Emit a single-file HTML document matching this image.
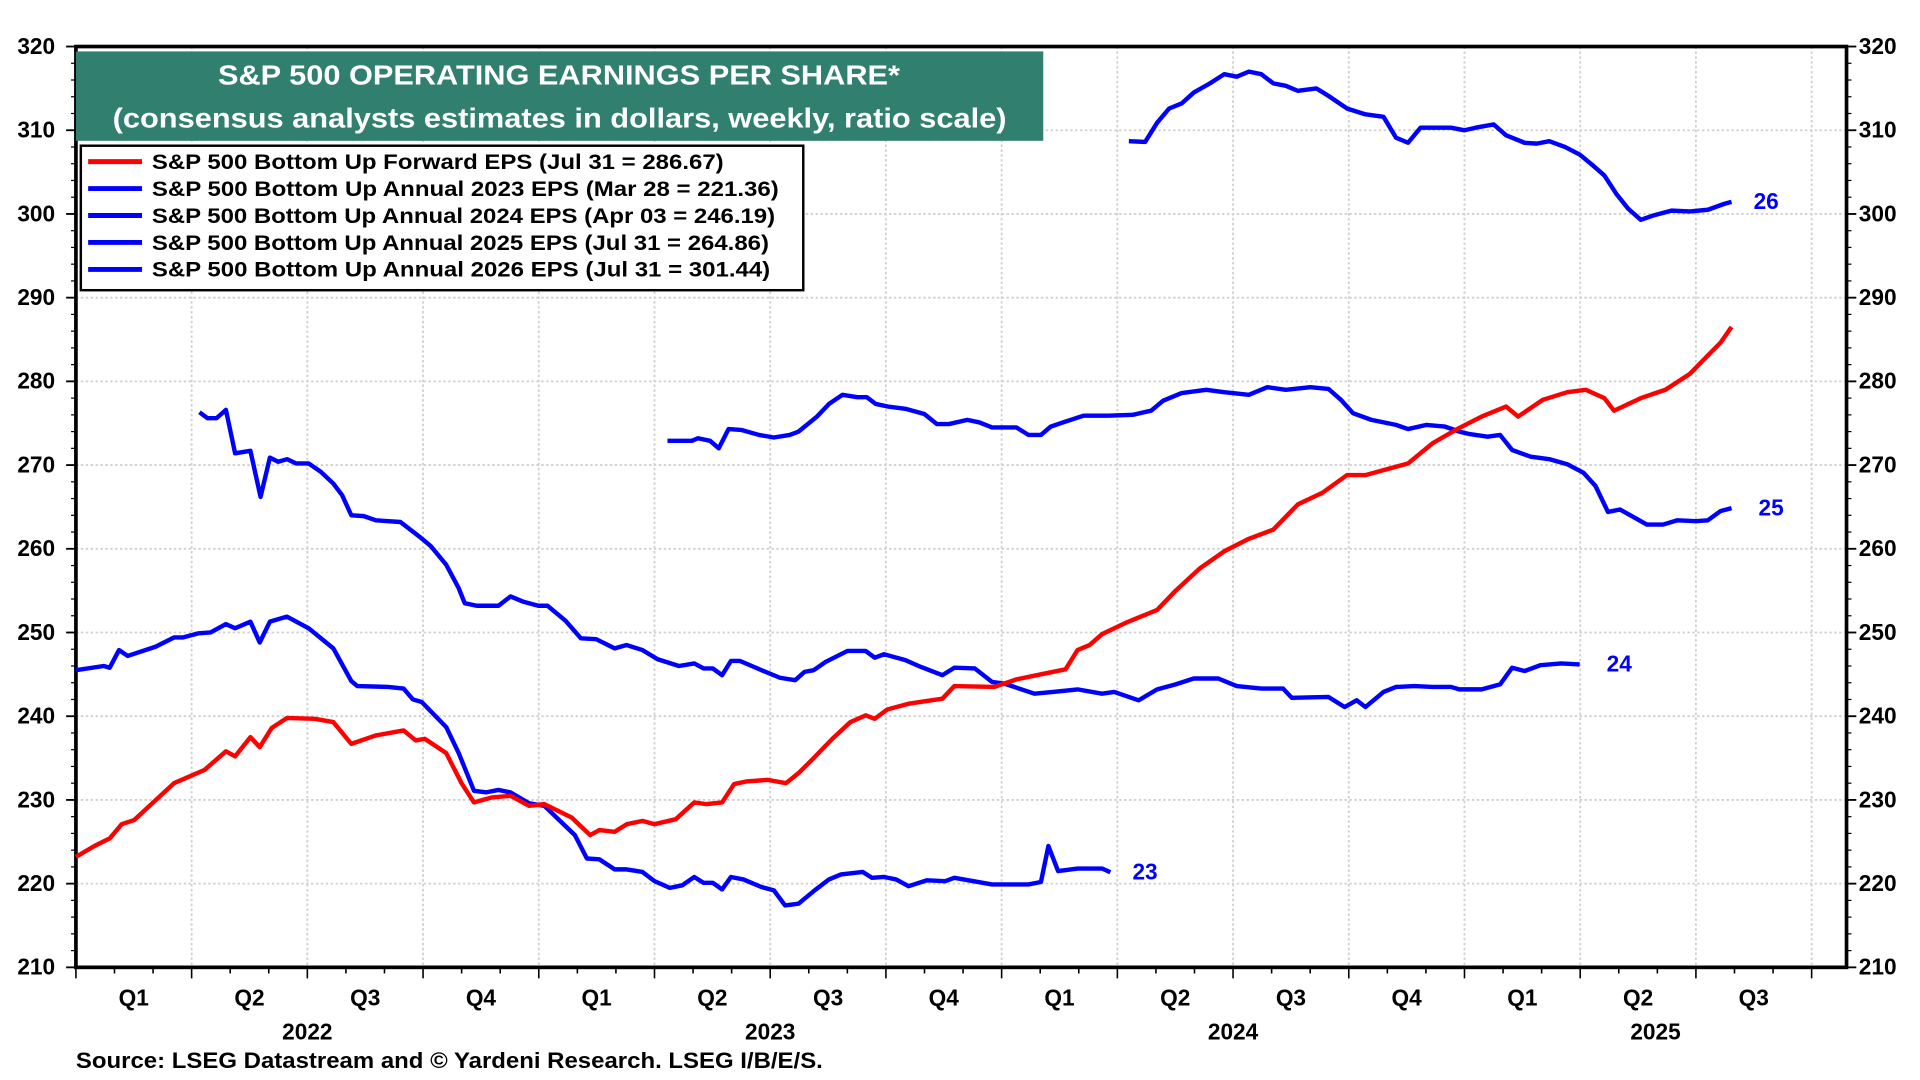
<!DOCTYPE html>
<html><head><meta charset="utf-8">
<style>
html,body{margin:0;padding:0;background:#fff;}
svg{display:block;font-family:"Liberation Sans",Arial,sans-serif;font-weight:bold;}
</style></head>
<body>
<svg id="chart" width="1920" height="1080" viewBox="0 0 1568 882" xmlns="http://www.w3.org/2000/svg">
<g id="grid"></g>
<g id="axes"></g>
<g id="series"></g>
<rect x="62" y="42" width="790" height="73" fill="#31806f"/>
<text x="178" y="69" fill="#fff" font-size="23" textLength="557" lengthAdjust="spacingAndGlyphs">S&amp;P 500 OPERATING EARNINGS PER SHARE*</text>
<text x="92" y="104" fill="#fff" font-size="23" textLength="730" lengthAdjust="spacingAndGlyphs">(consensus analysts estimates in dollars, weekly, ratio scale)</text>
<g>
<rect x="66" y="119" width="590" height="118" fill="#fff" stroke="#000" stroke-width="2"/>
<g><line x1="72" y1="132" x2="116" y2="132" stroke="#f00" stroke-width="4"/><text x="124" y="138" font-size="17" textLength="467" lengthAdjust="spacingAndGlyphs">S&amp;P 500 Bottom Up Forward EPS (Jul 31 = 286.67)</text></g>
<g><line x1="72" y1="154" x2="116" y2="154" stroke="#00f" stroke-width="4"/><text x="124" y="160" font-size="17" textLength="512" lengthAdjust="spacingAndGlyphs">S&amp;P 500 Bottom Up Annual 2023 EPS (Mar 28 = 221.36)</text></g>
<g><line x1="72" y1="176" x2="116" y2="176" stroke="#00f" stroke-width="4"/><text x="124" y="182" font-size="17" textLength="509" lengthAdjust="spacingAndGlyphs">S&amp;P 500 Bottom Up Annual 2024 EPS (Apr 03 = 246.19)</text></g>
<g><line x1="72" y1="198" x2="116" y2="198" stroke="#00f" stroke-width="4"/><text x="124" y="204" font-size="17" textLength="504" lengthAdjust="spacingAndGlyphs">S&amp;P 500 Bottom Up Annual 2025 EPS (Jul 31 = 264.86)</text></g>
<g><line x1="72" y1="220" x2="116" y2="220" stroke="#00f" stroke-width="4"/><text x="124" y="226" font-size="17" textLength="505" lengthAdjust="spacingAndGlyphs">S&amp;P 500 Bottom Up Annual 2026 EPS (Jul 31 = 301.44)</text></g>
</g>
<text x="62" y="872" font-size="18" textLength="610" lengthAdjust="spacingAndGlyphs">Source: LSEG Datastream and © Yardeni Research. LSEG I/B/E/S.</text>
</svg>
<script>
// years since 2022-01-01 and EPS values
const fwdT=[0,.040,.073,.099,.126,.159,.212,.278,.324,.344,.377,.397,.423,.456,.516,.556,.595,.648,.708,.734,.754,.800,.833,.860,.899,.939,.979,1.012,1.071,1.111,1.131,1.164,1.190,1.224,1.250,1.296,1.336,1.362,1.396,1.422,1.448,1.495,1.534,1.561,1.594,1.634,1.673,1.706,1.726,1.753,1.799,1.872,1.898,1.984,2.032,2.085,2.138,2.164,2.190,2.217,2.270,2.336,2.376,2.429,2.481,2.534,2.587,2.640,2.693,2.746,2.786,2.825,2.878,2.931,2.984,3.037,3.090,3.116,3.169,3.222,3.262,3.302,3.323,3.381,3.434,3.487,3.526,3.553,3.577];
const fwdV=[223.2,224.5,225.4,227.1,227.6,229.3,232.0,233.6,235.8,235.2,237.5,236.3,238.6,239.8,239.7,239.3,236.7,237.7,238.3,237.1,237.3,235.6,232.0,229.7,230.3,230.5,229.3,229.5,227.9,225.8,226.4,226.2,227.1,227.5,227.1,227.7,229.7,229.5,229.7,231.9,232.2,232.4,232.0,233.2,235.0,237.3,239.3,240.1,239.7,240.8,241.5,242.1,243.6,243.5,244.4,245.0,245.6,247.9,248.5,249.8,251.2,252.7,255.0,257.7,259.7,261.2,262.3,265.3,266.7,268.8,268.8,269.4,270.2,272.6,274.3,275.8,277.0,275.8,277.8,278.7,279.0,278.0,276.5,278.0,279.0,280.9,283.1,284.6,286.5];
const e23T=[0,.060,.073,.093,.112,.172,.212,.231,.265,.291,.324,.344,.377,.397,.419,.456,.503,.556,.595,.608,.675,.708,.728,.747,.800,.827,.860,.886,.913,.939,.979,1.012,1.078,1.104,1.131,1.164,1.190,1.224,1.250,1.283,1.310,1.336,1.356,1.376,1.396,1.415,1.442,1.481,1.508,1.532,1.561,1.594,1.627,1.653,1.700,1.720,1.746,1.772,1.799,1.839,1.878,1.898,1.979,2.058,2.085,2.101,2.122,2.164,2.217,2.235];
const e23V=[245.5,246.0,245.8,247.9,247.2,248.3,249.4,249.4,249.9,250.0,251.0,250.5,251.3,248.8,251.3,251.9,250.5,248.1,244.2,243.6,243.5,243.3,242.0,241.7,238.7,235.6,231.1,230.9,231.2,230.9,229.6,229.3,225.8,223.0,222.9,221.7,221.7,221.4,220.3,219.5,219.8,220.8,220.1,220.1,219.3,220.8,220.5,219.6,219.2,217.4,217.6,219.1,220.5,221.1,221.4,220.7,220.8,220.5,219.7,220.4,220.3,220.7,219.9,219.9,220.2,224.5,221.5,221.8,221.8,221.36];
const e24T=[.267,.284,.304,.324,.344,.377,.399,.419,.437,.456,.476,.503,.529,.556,.575,.595,.622,.648,.701,.741,.767,.800,.827,.840,.866,.913,.939,.966,.999,1.019,1.058,1.091,1.124,1.164,1.190,1.224,1.257,1.303,1.336,1.356,1.376,1.396,1.415,1.435,1.481,1.521,1.554,1.574,1.594,1.620,1.667,1.706,1.726,1.746,1.792,1.825,1.872,1.898,1.942,1.979,2.005,2.071,2.111,2.164,2.217,2.243,2.296,2.336,2.376,2.415,2.468,2.508,2.561,2.608,2.627,2.706,2.741,2.767,2.786,2.825,2.852,2.892,2.931,2.971,2.989,3.037,3.077,3.103,3.130,3.164,3.209,3.249];
const e24V=[276.3,275.6,275.6,276.6,271.4,271.7,266.2,270.9,270.4,270.7,270.2,270.2,269.2,267.8,266.4,264.0,263.9,263.4,263.2,261.5,260.3,258.1,255.3,253.5,253.2,253.2,254.3,253.7,253.2,253.2,251.4,249.3,249.2,248.1,248.5,247.9,246.8,246.0,246.3,245.7,245.7,244.9,246.6,246.6,245.5,244.6,244.3,245.3,245.5,246.5,247.8,247.8,247.0,247.4,246.7,245.9,244.9,245.8,245.7,244.1,243.9,242.7,242.9,243.2,242.7,242.9,241.9,243.2,243.8,244.5,244.5,243.6,243.3,243.3,242.2,242.3,241.1,241.9,241.1,242.9,243.5,243.6,243.5,243.5,243.2,243.2,243.8,245.8,245.4,246.1,246.3,246.19];
const e25T=[1.278,1.331,1.344,1.370,1.389,1.410,1.437,1.476,1.508,1.542,1.561,1.601,1.627,1.656,1.688,1.709,1.728,1.754,1.794,1.833,1.860,1.886,1.926,1.952,1.979,2.032,2.058,2.085,2.106,2.138,2.177,2.230,2.283,2.323,2.349,2.389,2.442,2.481,2.534,2.574,2.614,2.667,2.706,2.733,2.759,2.799,2.852,2.878,2.918,2.958,2.989,3.011,3.050,3.077,3.103,3.143,3.183,3.222,3.257,3.283,3.310,3.336,3.368,3.394,3.429,3.460,3.500,3.526,3.553,3.577];
const e25V=[272.9,272.9,273.2,272.9,272.0,274.3,274.2,273.6,273.3,273.6,274.0,275.8,277.3,278.4,278.1,278.1,277.3,277.0,276.7,276.1,274.9,274.9,275.4,275.1,274.5,274.5,273.6,273.6,274.6,275.2,275.9,275.9,276.0,276.5,277.7,278.6,279.0,278.7,278.4,279.3,279.0,279.3,279.1,277.8,276.2,275.4,274.8,274.3,274.8,274.6,274.0,273.7,273.4,273.6,271.8,271.0,270.7,270.1,269.1,267.5,264.4,264.7,263.7,262.9,262.9,263.4,263.3,263.4,264.5,264.86];
const e26T=[2.275,2.310,2.336,2.362,2.389,2.415,2.450,2.481,2.508,2.534,2.561,2.587,2.614,2.640,2.680,2.706,2.746,2.786,2.825,2.852,2.878,2.905,2.944,2.971,3.000,3.024,3.063,3.090,3.130,3.156,3.183,3.217,3.249,3.275,3.302,3.328,3.354,3.381,3.407,3.447,3.487,3.526,3.561,3.577];
const e26V=[308.7,308.6,310.9,312.6,313.2,314.5,315.6,316.7,316.4,317.0,316.7,315.6,315.3,314.7,315.0,314.1,312.6,311.9,311.6,309.1,308.5,310.3,310.3,310.3,310.0,310.3,310.7,309.4,308.5,308.4,308.7,308.0,307.1,305.9,304.6,302.4,300.6,299.3,299.8,300.4,300.3,300.5,301.2,301.44];
const yTicks=[210,220,230,240,250,260,270,280,290,300,310,320];
const qLabels=["Q1","Q2","Q3","Q4"];
const years=["2022","2023","2024","2025"];

const NS="http://www.w3.org/2000/svg";
const L=62,R=1508,T=38,B=790;
const yMin=210,yMax=320;
const X=t=>L+t*378;
const Y=v=>B-(v-yMin)/(yMax-yMin)*(B-T);
function mk(tag,attrs,parent){const e=document.createElementNS(NS,tag);for(const k in attrs)e.setAttribute(k,attrs[k]);parent.appendChild(e);return e;}
const grid=document.getElementById('grid'),axes=document.getElementById('axes'),series=document.getElementById('series');

yTicks.forEach(v=>{
  const y=Y(v);
  if(v>yMin&&v<yMax){const g=mk('line',{x1:L,x2:R,y1:y,y2:y,stroke:'#d0d0d0','stroke-width':1.5,'stroke-dasharray':'2 2'},grid);
  
  }
  const a=mk('text',{x:L-17,y:y+6,'font-size':18.5,'text-anchor':'end'},axes);a.textContent=v;
  
  
  const b=mk('text',{x:R+10,y:y+6,'font-size':18.5},axes);b.textContent=v;
  
  
  mk('line',{x1:L-8,x2:L,y1:y,y2:y,stroke:'#000','stroke-width':1.5},axes);
  mk('line',{x1:R,x2:R+8,y1:y,y2:y,stroke:'#000','stroke-width':1.5},axes);
});
for(let v=yMin;v<yMax;v+=2){if(v%10){mk('line',{x1:L-4,x2:L,y1:Y(v),y2:Y(v),stroke:'#000','stroke-width':1},axes);mk('line',{x1:R,x2:R+4,y1:Y(v),y2:Y(v),stroke:'#000','stroke-width':1},axes);}}
for(let m=0;m<=46;m++){
  const x=X(m/12);if(x>R)break;
  const q=m%3===0;
  if(q&&m>0){const g=mk('line',{x1:x,x2:x,y1:T,y2:B,stroke:'#d0d0d0','stroke-width':1.5,'stroke-dasharray':'2 2'},grid);
  
  }
  mk('line',{x1:x,x2:x,y1:B,y2:B+(q?9:5),stroke:'#000','stroke-width':1.3},axes);
}
for(let q=0;q<15;q++){
  const t=mk('text',{x:X(q*0.25+0.125),y:821,'font-size':18.5,'text-anchor':'middle'},axes);t.textContent=qLabels[q%4];
  
  
}
years.forEach((yr,i)=>{
  const cx=i<3?X(i+0.5):1352;
  const t=mk('text',{x:cx,y:849,'font-size':18.5,'text-anchor':'middle'},axes);t.textContent=yr;
  
  
});
const frame=mk('rect',{x:L,y:T,width:R-L,height:B-T,fill:'none',stroke:'#000','stroke-width':3},axes);



function line(ts,vs,color,name){
  const d=ts.map((t,i)=>(i?'L':'M')+X(t).toFixed(1)+' '+Y(vs[i]).toFixed(1)).join(' ');
  const p=mk('path',{d:d,fill:'none',stroke:color,'stroke-width':3.6,'stroke-linejoin':'round'},series);
  
  
}
line(e23T,e23V,'#0000ff','eps-2023-line');
line(e24T,e24V,'#0000ff','eps-2024-line');
line(e25T,e25V,'#0000ff','eps-2025-line');
line(e26T,e26V,'#0000ff','eps-2026-line');
line(fwdT,fwdV,'#ff0000','forward-eps-line');
function endLabel(ts,vs,txt,dx,name){
  const t=mk('text',{x:X(ts[ts.length-1])+dx,y:Y(vs[vs.length-1])+6,'font-size':18.5,fill:'#0000ff'},series);t.textContent=txt;
  
  
}
endLabel(e23T,e23V,"23",18,'label-23');
endLabel(e24T,e24V,"24",22,'label-24');
endLabel(e25T,e25V,"25",22,'label-25');
endLabel(e26T,e26V,"26",18,'label-26');
</script>
</body></html>
